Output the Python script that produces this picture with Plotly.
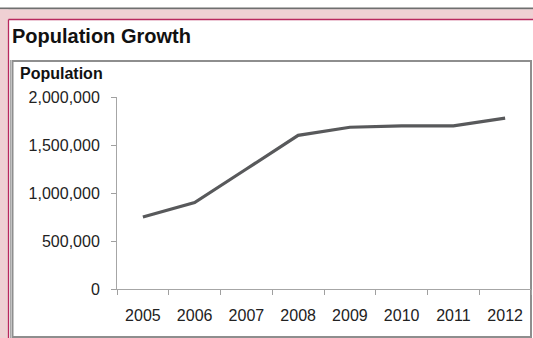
import plotly.graph_objects as go

years = ["2005", "2006", "2007", "2008", "2009", "2010", "2011", "2012"]
population = [750000, 900000, 1250000, 1600000, 1685000, 1700000, 1700000, 1780000]
y_ticks = [0, 500000, 1000000, 1500000, 2000000]
y_tick_text = ["0", "500,000", "1,000,000", "1,500,000", "2,000,000"]

W, H = 533, 338
L, R, T, B = 117, 2, 97, 49
PW, PH = W - L - R, H - T - B


def xp(px):
    return (px - L) / PW


def yp(py):
    return (H - B - py) / PH


FONT = "Liberation Sans, Arial, sans-serif"
PINK = "#EFD0D3"

fig = go.Figure()
fig.add_trace(go.Scatter(
    x=years, y=population, mode="lines",
    line=dict(color="#58595B", width=3.2),
    hoverinfo="skip", showlegend=False,
))

shapes = [
    # grey rule at the top of the page
    dict(type="line", xref="paper", yref="paper", x0=xp(0), x1=xp(W), y0=yp(8.5), y1=yp(8.5),
         line=dict(color="#6F6F6F", width=2), layer="below"),
    # pink background strips (top and left)
    dict(type="rect", xref="paper", yref="paper", x0=xp(0), x1=xp(W), y0=yp(9.5), y1=yp(19.5),
         fillcolor=PINK, line=dict(width=0), layer="below"),
    dict(type="rect", xref="paper", yref="paper", x0=xp(0), x1=xp(8.5), y0=yp(9.5), y1=yp(H),
         fillcolor=PINK, line=dict(width=0), layer="below"),
    # crimson border (top and left)
    dict(type="line", xref="paper", yref="paper", x0=xp(8.5), x1=xp(W), y0=yp(19.5), y1=yp(19.5),
         line=dict(color="#B8285E", width=1.3), layer="below"),
    dict(type="line", xref="paper", yref="paper", x0=xp(8.5), x1=xp(8.5), y0=yp(19.5), y1=yp(H),
         line=dict(color="#B8285E", width=1.3), layer="below"),
    # chart frame
    dict(type="rect", xref="paper", yref="paper", x0=xp(12.5), x1=xp(531), y0=yp(61), y1=yp(337),
         fillcolor="white", line=dict(color="#8E8E8E", width=2), layer="below"),
    dict(type="line", xref="paper", yref="paper", x0=xp(10.5), x1=xp(10.5), y0=yp(60), y1=yp(H),
         line=dict(color="#A8A8A8", width=1.2), layer="below"),
]

annotations = [
    dict(text="<b>Population Growth</b>", xref="paper", yref="paper", x=xp(10), y=yp(36.5),
         xanchor="left", yanchor="middle", showarrow=False,
         font=dict(family=FONT, size=20, color="#111111")),
    dict(text="<b>Population</b>", xref="paper", yref="paper", x=xp(18), y=yp(73.5),
         xanchor="left", yanchor="middle", showarrow=False,
         font=dict(family=FONT, size=16, color="#111111")),
]

fig.update_layout(
    width=W, height=H,
    margin=dict(l=L, r=R, t=T, b=B, pad=0),
    paper_bgcolor="white", plot_bgcolor="rgba(0,0,0,0)",
    shapes=shapes, annotations=annotations,
    font=dict(family=FONT, size=16, color="#222222"),
    xaxis=dict(
        type="category", range=[-0.5, len(years) - 0.5],
        tickson="boundaries", ticks="outside", ticklen=5,
        tickcolor="#A0A0A0", showline=True, linecolor="#A6A6A6", linewidth=1,
        showgrid=False, zeroline=False, ticklabelstandoff=12,
        tickfont=dict(family=FONT, size=16, color="#222222"),
        fixedrange=True,
    ),
    yaxis=dict(
        range=[0, 2000000], tickvals=y_ticks, ticktext=y_tick_text,
        ticks="outside", ticklen=5, tickcolor="#A0A0A0",
        showline=True, linecolor="#A6A6A6", linewidth=1,
        showgrid=False, zeroline=False, ticklabelstandoff=8,
        tickfont=dict(family=FONT, size=16, color="#222222"),
        fixedrange=True,
    ),
)

fig.write_html("out.html", config={"displayModeBar": False})
